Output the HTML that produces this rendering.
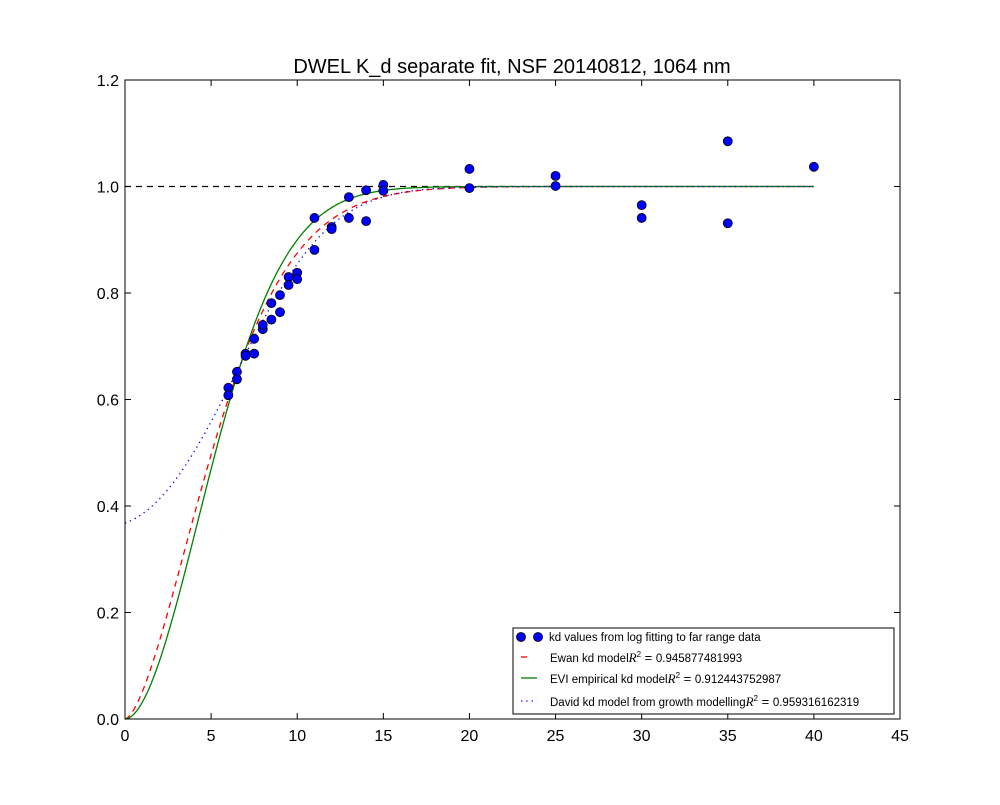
<!DOCTYPE html>
<html><head><meta charset="utf-8"><style>
body{margin:0;background:#fff;}
svg text{font-family:"Liberation Sans","DejaVu Sans",sans-serif;}
</style></head><body>
<svg id="chart" width="1000" height="800" xmlns="http://www.w3.org/2000/svg">
<rect width="1000" height="800" fill="#fff"/>
<text x="512" y="73" font-size="20" text-anchor="middle">DWEL K_d separate fit, NSF 20140812, 1064 nm</text>
<g id="plot"></g>
</svg>
<script>
const xTicks=[0,5,10,15,20,25,30,35,40,45];
const yTicks=[0.0,0.2,0.4,0.6,0.8,1.0,1.2];
const ptX=[6,6,6.5,6.5,7,7,7.5,7.5,8,8,8.5,8.5,9,9,9.5,9.5,10,10,11,11,12,12,13,13,14,14,15,15,20,20,25,25,30,30,35,35,40];
const ptY=[0.622,0.608,0.652,0.638,0.686,0.682,0.714,0.686,0.732,0.740,0.781,0.750,0.796,0.764,0.830,0.815,0.838,0.826,0.941,0.881,0.924,0.920,0.980,0.941,0.993,0.935,1.003,0.992,1.033,0.997,1.020,1.001,0.965,0.941,1.085,0.931,1.037];
const ewanParams=[6.33,1.6];
const eviParams=[6.39,1.86];
const davidParams=[0.031,0.0154];
const L=125,R=900,T=80,B=719;
const sx=v=>L+(v-0)/45*(R-L);
const sy=v=>B-(v-0)/1.2*(B-T);
const NS="http://www.w3.org/2000/svg";
const g=document.getElementById('plot');
function mk(t,a){const e=document.createElementNS(NS,t);for(const k in a)e.setAttribute(k,a[k]);g.appendChild(e);return e;}
function curve(f,color,dash,name){let d='';for(let i=0;i<=400;i++){const x=40*i/400;d+=(i?'L':'M')+sx(x).toFixed(2)+','+sy(f(x)).toFixed(2);}
const p=mk('path',{d:d,fill:'none',stroke:color,'stroke-width':1.3,'stroke-dasharray':dash});

}
const ref=mk('line',{x1:sx(0),x2:sx(40),y1:sy(1),y2:sy(1),stroke:'#000','stroke-width':1.3,'stroke-dasharray':'6,5'});


curve(x=>1-Math.exp(-Math.pow(x/ewanParams[0],ewanParams[1])),'#f00','6,5','ewan-curve');
curve(x=>1-Math.exp(-Math.pow(x/eviParams[0],eviParams[1])),'#008000','','evi-curve');
curve(x=>Math.exp(-Math.exp(-davidParams[0]*x-davidParams[1]*x*x)),'#00f','1.3,4','david-curve');
for(let i=0;i<ptX.length;i++){const c=mk('circle',{cx:sx(ptX[i]),cy:sy(ptY[i]),r:4.5,fill:'#0000ff',stroke:'#000','stroke-width':0.8});

}
const fr=mk('rect',{x:L,y:T,width:R-L,height:B-T,fill:'none',stroke:'#000','stroke-width':1});


xTicks.forEach(v=>{const x=sx(v);mk('line',{x1:x,x2:x,y1:B,y2:B-6,stroke:'#000'});mk('line',{x1:x,x2:x,y1:T,y2:T+6,stroke:'#000'});
const t=mk('text',{x:x,y:B+22,'font-size':16,'text-anchor':'middle'});t.textContent=v;

});
yTicks.forEach(v=>{const y=sy(v);mk('line',{x1:L,x2:L+6,y1:y,y2:y,stroke:'#000'});mk('line',{x1:R,x2:R-6,y1:y,y2:y,stroke:'#000'});
const t=mk('text',{x:L-6,y:y+6,'font-size':16,'text-anchor':'end'});t.textContent=v.toFixed(1);

});
const lg=mk('rect',{x:513,y:628,width:381,height:86,fill:'#fff',stroke:'#000','stroke-width':1});


mk('circle',{cx:521,cy:637,r:4.5,fill:'#00f',stroke:'#000','stroke-width':0.8});
mk('circle',{cx:538,cy:637,r:4.5,fill:'#00f',stroke:'#000','stroke-width':0.8});
mk('line',{x1:521,x2:527,y1:657,y2:657,stroke:'#f00','stroke-width':1.3});
mk('line',{x1:521,x2:537,y1:678,y2:678,stroke:'#008000','stroke-width':1.3});
mk('line',{x1:521,x2:537,y1:701,y2:701,stroke:'#00f','stroke-width':1.3,'stroke-dasharray':'1.3,4'});
const labels=[['kd values from log fitting to far range data',641,549],['Ewan kd model',662,550,'0.945877481993'],['EVI empirical kd model',683,550,'0.912443752987'],['David kd model from growth modelling',706,550,'0.959316162319']];
labels.forEach(l=>{const t=mk('text',{x:l[2],y:l[1],'font-size':11.5});


if(l[3]){t.innerHTML=l[0]+'<tspan font-style="italic" font-family="Liberation Serif" font-size="13">R</tspan><tspan font-size="8" dy="-5">2</tspan><tspan dy="5" font-size="13"> = </tspan>'+l[3];}else t.textContent=l[0];});
</script>
</body></html>
